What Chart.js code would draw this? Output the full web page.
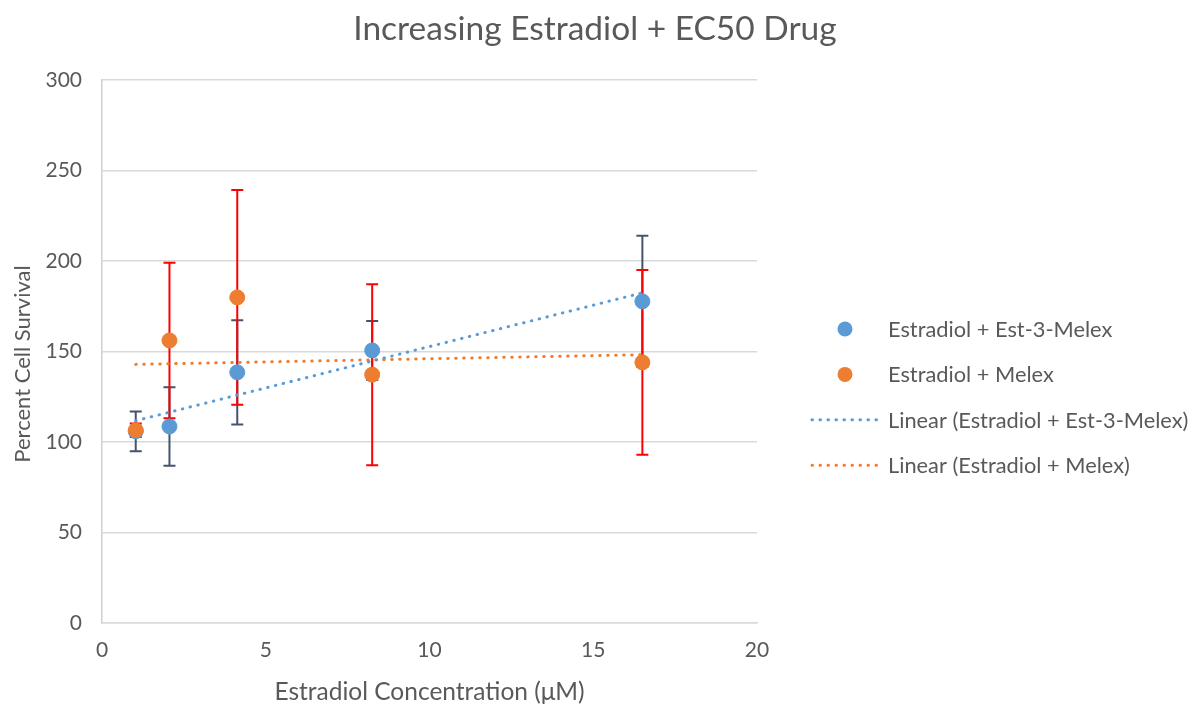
<!DOCTYPE html>
<html>
<head>
<meta charset="utf-8">
<script src="https://cdn.jsdelivr.net/npm/chart.js@4"></script>
<style>
  html, body { margin: 0; padding: 0; background: #fff; }
  #wrap { width: 1198px; height: 709px; position: relative; }
</style>
</head>
<body>
<div id="wrap"><canvas id="c" width="1198" height="709"></canvas></div>
<script>
// Estradiol concentrations (µM)
const concentrations = [1.03, 2.06, 4.13, 8.25, 16.5];
// Percent cell survival, mean and error (±)
const est3MelexMeans = [105.9, 108.6, 138.5, 150.6, 177.7];
const est3MelexErrors = [11, 21.7, 28.8, 16.3, 36.3];
const melexMeans = [106.5, 156.1, 179.9, 137.2, 144];
const melexErrors = [3.7, 43, 59.3, 50, 51];
// Axis ticks
const xTicks = [0, 5, 10, 15, 20];
const yTicks = [0, 50, 100, 150, 200, 250, 300];

const chartTitle = 'Increasing Estradiol + EC50 Drug';
const yTitle = 'Percent Cell Survival';
const xTitle = 'Estradiol Concentration (\u03BCM)';
const seriesNames = ['Estradiol + Est-3-Melex', 'Estradiol + Melex'];
const BLUE = '#5B9BD5', ORANGE = '#ED7D31';
const TEXT = '#595959';
const FONT = 'Lato, "Open Sans", sans-serif';

// Least-squares linear fit, evaluated at the first and last concentration
function linearFit(xs, ys) {
  const n = xs.length;
  const mx = xs.reduce((a, b) => a + b, 0) / n;
  const my = ys.reduce((a, b) => a + b, 0) / n;
  let sxy = 0, sxx = 0;
  for (let i = 0; i < n; i++) { sxy += (xs[i] - mx) * (ys[i] - my); sxx += (xs[i] - mx) ** 2; }
  const slope = sxy / sxx, icpt = my - slope * mx;
  const x0 = Math.min(...xs), x1 = Math.max(...xs);
  return [{ x: x0, y: icpt + slope * x0 }, { x: x1, y: icpt + slope * x1 }];
}
const pts = (xs, ys) => xs.map((x, i) => ({ x, y: ys[i] }));

// Vertical error bars with caps, drawn beneath the markers
const errorBars = {
  id: 'errorBars',
  beforeDatasetsDraw(chart) {
    const { ctx, scales: { x, y } } = chart;
    const sets = [
      { means: est3MelexMeans, errs: est3MelexErrors, color: '#44546A' },
      { means: melexMeans, errs: melexErrors, color: '#FF0000' }
    ];
    ctx.save();
    ctx.lineWidth = 2;
    sets.forEach(s => {
      ctx.strokeStyle = s.color;
      concentrations.forEach((cx, i) => {
        const px = x.getPixelForValue(cx);
        const top = y.getPixelForValue(s.means[i] + s.errs[i]);
        const bot = y.getPixelForValue(s.means[i] - s.errs[i]);
        ctx.beginPath();
        ctx.moveTo(px, top); ctx.lineTo(px, bot);
        ctx.moveTo(px - 6, top); ctx.lineTo(px + 6, top);
        ctx.moveTo(px - 6, bot); ctx.lineTo(px + 6, bot);
        ctx.stroke();
      });
    });
    ctx.restore();
  }
};

// Chart title centred across the canvas, plus the rotated y-axis title
const titles = {
  id: 'titles',
  afterDraw(chart) {
    const { ctx } = chart;
    ctx.save();
    ctx.fillStyle = TEXT;
    ctx.textAlign = 'center';
    ctx.textBaseline = 'middle';
    ctx.font = '33.5px ' + FONT;
    ctx.fillText(chartTitle, chart.width / 2 - 4, 29);
    ctx.translate(23, 364);
    ctx.rotate(-Math.PI / 2);
    ctx.font = '22px ' + FONT;
    ctx.fillText(yTitle, 0, 0);
    ctx.restore();
  }
};

// Legend to the right of the plot
const sideLegend = {
  id: 'sideLegend',
  afterDraw(chart) {
    const { ctx, chartArea } = chart;
    const left = chartArea.right;
    const rowTop = chartArea.top + 249;
    const step = 45.4;
    const items = [
      { kind: 'dot', color: BLUE, label: seriesNames[0] },
      { kind: 'dot', color: ORANGE, label: seriesNames[1] },
      { kind: 'line', color: BLUE, label: 'Linear (' + seriesNames[0] + ')' },
      { kind: 'line', color: ORANGE, label: 'Linear (' + seriesNames[1] + ')' }
    ];
    ctx.save();
    ctx.font = '21.8px ' + FONT;
    ctx.textBaseline = 'middle';
    items.forEach((it, i) => {
      const cy = rowTop + i * step;
      if (it.kind === 'dot') {
        ctx.beginPath();
        ctx.fillStyle = it.color;
        ctx.arc(left + 88, cy, 7.5, 0, Math.PI * 2);
        ctx.fill();
      } else {
        ctx.beginPath();
        ctx.strokeStyle = it.color;
        ctx.lineWidth = 3;
        ctx.lineCap = 'round';
        ctx.setLineDash([0.5, 7.5]);
        ctx.moveTo(left + 55, cy); ctx.lineTo(left + 122, cy);
        ctx.stroke();
        ctx.setLineDash([]);
      }
      ctx.fillStyle = TEXT;
      ctx.fillText(it.label, left + 131, cy + 1);
    });
    ctx.restore();
  }
};

new Chart(document.getElementById('c'), {
  type: 'scatter',
  data: {
    datasets: [
      {
        label: seriesNames[0], data: pts(concentrations, est3MelexMeans),
        backgroundColor: BLUE, borderColor: BLUE, pointRadius: 7.5, pointHoverRadius: 7.5, order: 1
      },
      {
        label: seriesNames[1], data: pts(concentrations, melexMeans),
        backgroundColor: ORANGE, borderColor: ORANGE, pointRadius: 7.5, pointHoverRadius: 7.5, order: 0
      },
      {
        type: 'line', label: 'Linear (' + seriesNames[0] + ')',
        data: linearFit(concentrations, est3MelexMeans),
        borderColor: BLUE, borderWidth: 3, borderDash: [0.5, 7.5], borderCapStyle: 'round',
        pointRadius: 0, fill: false, order: 2
      },
      {
        type: 'line', label: 'Linear (' + seriesNames[1] + ')',
        data: linearFit(concentrations, melexMeans),
        borderColor: ORANGE, borderWidth: 3, borderDash: [0.5, 7.5], borderCapStyle: 'round',
        pointRadius: 0, fill: false, order: 2
      }
    ]
  },
  options: {
    responsive: false,
    animation: false,
    devicePixelRatio: 1,
    layout: { padding: { left: 0, right: 441, top: 80, bottom: 0 } },
    plugins: {
      legend: { display: false },
      tooltip: { enabled: false },
      title: { display: false }
    },
    scales: {
      x: {
        type: 'linear', min: 0, max: 20,
        afterBuildTicks(s) { s.ticks = xTicks.map(v => ({ value: v })); },
        afterFit(s) { s.height = 86; },
        grid: { display: false, drawTicks: false },
        border: { display: true, color: '#D9D9D9', width: 1.5 },
        ticks: { color: TEXT, font: { family: FONT, size: 21 }, padding: 15 },
        title: {
          display: true, text: xTitle,
          color: TEXT, font: { family: FONT, size: 24.5 }, padding: { top: 0, bottom: 2 }
        }
      },
      y: {
        type: 'linear', min: 0, max: 300,
        afterBuildTicks(s) { s.ticks = yTicks.map(v => ({ value: v })); },
        afterFit(s) { s.width = 102; },
        grid: { color: '#D9D9D9', lineWidth: 1.5, drawTicks: false },
        border: { display: true, color: '#D0D0D0', width: 1.5 },
        ticks: { color: TEXT, font: { family: FONT, size: 21 }, padding: 20 },
        title: { display: false }
      }
    }
  },
  plugins: [errorBars, titles, sideLegend]
});
</script>
</body>
</html>
